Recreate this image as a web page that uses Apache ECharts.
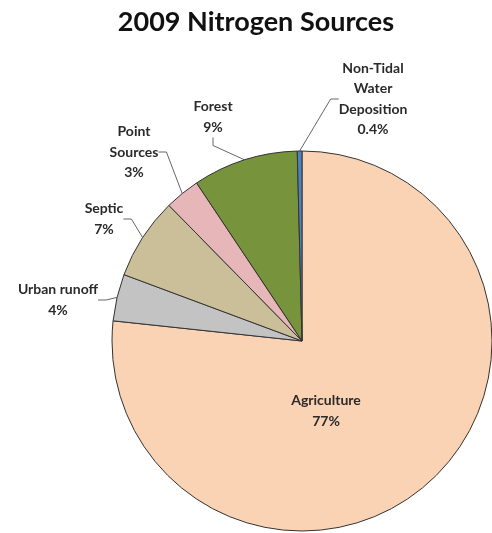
<!DOCTYPE html>
<html>
<head>
<meta charset="utf-8">
<script src="https://cdn.jsdelivr.net/npm/echarts@6/dist/echarts.min.js"></script>
<style>
  html, body { margin: 0; padding: 0; background: #fff; }
  #chart-panel { width: 492px; height: 533px; }
</style>
</head>
<body>
<div id="chart-panel"></div>
<script>
// data
var sources = ['Agriculture', 'Urban runoff', 'Septic', 'Point\nSources', 'Forest', 'Non-Tidal\nWater\nDeposition'];
var shares = [77, 4, 7, 3, 9, 0.4];
var shareLabels = ['77%', '4%', '7%', '3%', '9%', '0.4%'];

var colors = ['#FAD3B5', '#C3C3C3', '#CABF98', '#E7B6B9', '#77933C', '#4F81BD'];
// where each label sits (centre of the text block)
var labelSpots = [
    [326, 411],
    [58, 300],
    [104, 219],
    [134, 152],
    [213, 117],
    [373, 99]
];

var chart = echarts.init(document.getElementById('chart-panel'));

var data = [];
for (var i = 0; i < sources.length; i++) {
    data.push({
        name: sources[i],
        value: shares[i],
        pct: shareLabels[i],
        itemStyle: { color: colors[i] }
    });
}

var option = {
    animation: false,
    title: {
        text: '2009 Nitrogen Sources',
        left: 251,
        top: 4,
        textAlign: 'center',
        textStyle: {
            fontFamily: 'Lato',
            fontWeight: 'bold',
            fontSize: 27,
            color: '#111'
        }
    },
    series: [{
        type: 'pie',
        center: [302, 341],
        radius: 190,
        startAngle: 90,
        clockwise: true,
        avoidLabelOverlap: false,
        itemStyle: {
            borderColor: '#333',
            borderWidth: 1
        },
        label: {
            show: true,
            position: 'outside',
            fontFamily: 'Lato',
            fontWeight: 'bold',
            fontSize: 14,
            lineHeight: 20.5,
            color: '#2a2a2a',
            align: 'center',
            formatter: function (p) {
                return p.name + '\n' + p.data.pct;
            }
        },
        labelLine: {
            show: true,
            length: 10,
            length2: 8,
            lineStyle: { color: '#666', width: 1 }
        },
        labelLayout: function (p) {
            var s = labelSpots[p.dataIndex];
            return {
                x: s[0],
                y: s[1],
                align: 'center',
                verticalAlign: 'middle'
            };
        },
        data: data
    }]
};
option.series[0].data[0].labelLine = { show: false };

chart.setOption(option);
</script>
</body>
</html>
